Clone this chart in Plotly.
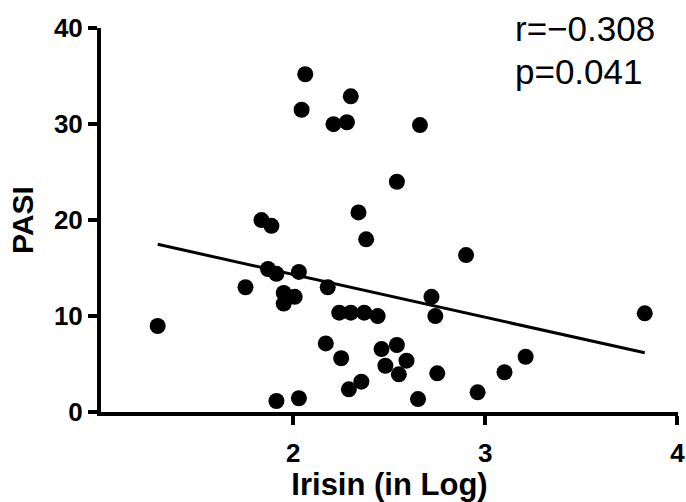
import plotly.graph_objects as go

# Data
irisin_log = [1.295, 1.752, 1.835, 1.887, 1.869, 1.913, 1.951, 2.008, 1.951, 2.030,
              1.913, 2.030, 2.063, 2.044, 2.210, 2.280, 2.300, 2.660, 2.540, 2.340,
              2.380, 2.900, 2.180, 2.240, 2.300, 2.370, 2.440, 2.170, 2.250, 2.460,
              2.540, 2.590, 2.480, 2.550, 2.355, 2.290, 2.650, 2.750, 2.720, 2.740,
              3.830, 3.210, 3.100, 2.960]
pasi = [8.96, 13.0, 20.0, 19.4, 14.9, 14.4, 12.4, 12.0, 11.3, 14.6,
        1.15, 1.43, 35.2, 31.5, 30.0, 30.2, 32.9, 29.9, 24.0, 20.8,
        18.0, 16.35, 13.0, 10.35, 10.35, 10.35, 10.0, 7.15, 5.6, 6.56,
        6.98, 5.35, 4.82, 3.93, 3.16, 2.36, 1.35, 4.03, 12.0, 10.0,
        10.28, 5.76, 4.14, 2.05]

fit_slope = -4.46
fit_intercept = 23.25

x_ticks = [2, 3, 4]
y_ticks = [0, 10, 20, 30, 40]
stats_text = ["r=\u22120.308", "p=0.041"]

FONT = "Liberation Sans, Arial, sans-serif"

fit_x = [min(irisin_log), max(irisin_log)]
fit_y = [fit_intercept + fit_slope * v for v in fit_x]

fig = go.Figure()
fig.add_trace(go.Scatter(x=fit_x, y=fit_y, mode="lines",
                         line=dict(color="black", width=3), hoverinfo="skip"))
fig.add_trace(go.Scatter(x=irisin_log, y=pasi, mode="markers",
                         marker=dict(color="black", size=16, line=dict(width=0))))

fig.update_layout(
    width=686, height=502,
    margin=dict(l=101, r=8, t=28, b=90),
    plot_bgcolor="white", paper_bgcolor="white",
    showlegend=False,
    font=dict(family=FONT, color="black"),
)
fig.update_xaxes(
    range=[1, 4.003], tickvals=x_ticks, ticktext=[str(v) for v in x_ticks],
    showgrid=False, zeroline=False, showline=True, linecolor="black", linewidth=4,
    ticks="outside", ticklen=9, tickwidth=3.5, tickcolor="black",
    tickfont=dict(size=26, weight="bold", family=FONT), ticklabelstandoff=6,
    ticklabeloverflow="allow",
    title=dict(text="Irisin (in Log)", font=dict(size=31, weight="bold", family=FONT), standoff=10),
    automargin=False,
)
fig.update_yaxes(
    range=[0, 40.02], tickvals=y_ticks, ticktext=[str(v) for v in y_ticks],
    showgrid=False, zeroline=False, showline=True, linecolor="black", linewidth=4,
    ticks="outside", ticklen=9, tickwidth=3.5, tickcolor="black",
    tickfont=dict(size=26, weight="bold", family=FONT),
    ticklabeloverflow="allow",
    title=dict(text="PASI", font=dict(size=30, weight="bold", family=FONT), standoff=12),
    automargin=False,
)
fig.add_annotation(text=stats_text[0], xref="paper", yref="paper", x=0.714, y=1.0,
                   xanchor="left", yanchor="middle", showarrow=False,
                   font=dict(size=35, family=FONT, color="black"))
fig.add_annotation(text=stats_text[1], xref="paper", yref="paper", x=0.714, y=0.887,
                   xanchor="left", yanchor="middle", showarrow=False,
                   font=dict(size=35, family=FONT, color="black"))

# remove the page's default body margin so the 686x502 figure fills the window
fig.write_html(
    "out.html",
    config={"displayModeBar": False},
    post_script="document.body.style.margin='0';document.body.style.overflow='hidden';",
)
